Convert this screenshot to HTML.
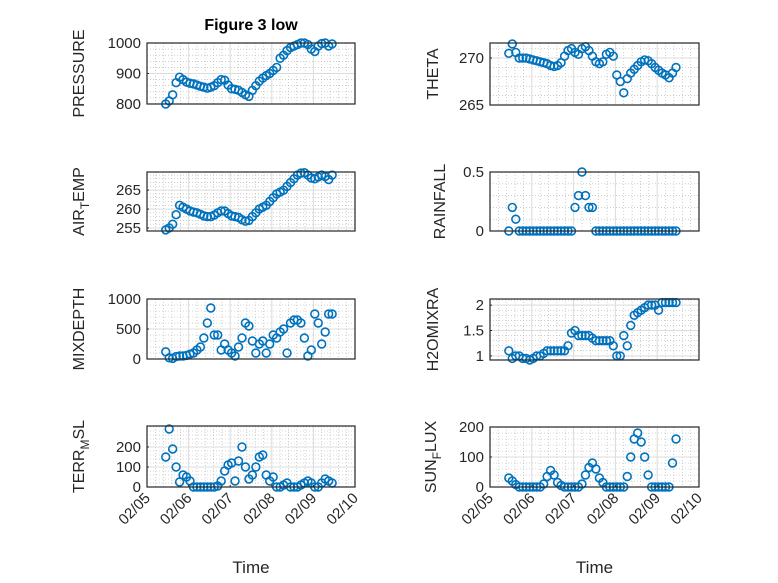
<!DOCTYPE html>
<html><head><meta charset="utf-8"><style>
body{margin:0;background:#fff}
svg{display:block;font-family:"Liberation Sans","DejaVu Sans",sans-serif}
</style></head><body>
<svg id="fig" width="778" height="583" viewBox="0 0 778 583">
<rect width="778" height="583" fill="#fff"/>
<text x="251" y="30" text-anchor="middle" font-size="16" font-weight="bold" fill="#000">Figure 3 low</text>
</svg>
<script>
const xTickLabels = ["02/05","02/06","02/07","02/08","02/09","02/10"];
const tStart = 5.45, tStep = 1/12;
const pressure = [800,810,830,870,888,880,872,868,866,862,858,855,852,855,860,870,880,878,862,850,848,845,838,830,825,845,860,875,885,893,900,910,920,950,960,975,985,990,995,1000,1000,995,980,972,990,998,1000,990,997];
const airTemp = [254.5,255,256,258.5,261,260.5,260,259.5,259.2,259,258.6,258.2,258,258,258.4,259,259.5,259.5,258.8,258.2,258,257.8,257.2,256.8,257,258,259,260,260.5,261,262,263,264,264.5,265,266,267,268,269,269.5,269.6,269,268.2,268,268.5,269,268.6,267.8,269];
const mixDepth = [120,20,10,40,50,50,60,80,100,150,200,350,600,850,400,400,150,250,150,100,50,200,350,600,550,300,100,250,300,100,250,400,350,450,500,100,600,650,650,600,350,50,150,750,600,250,450,750,750];
const terrMsl = [150,290,190,100,25,60,50,30,0,0,0,0,0,0,0,5,30,80,110,120,30,130,200,100,40,60,100,150,160,60,30,50,0,0,10,20,0,0,0,10,20,30,20,0,0,20,40,30,20];
const theta = [270.5,271.5,270.6,270,270,270,269.9,269.8,269.7,269.6,269.5,269.4,269.2,269.1,269.2,269.5,270.2,270.8,271,270.6,270.4,271,271.2,270.8,270.2,269.6,269.4,269.6,270.4,270.6,270.2,268.2,267.5,266.3,267.8,268.4,268.8,269.2,269.6,269.8,269.7,269.4,269,268.7,268.4,268.2,267.9,268.4,269];
const rainfall = [0,0.2,0.1,0,0,0,0,0,0,0,0,0,0,0,0,0,0,0,0,0.2,0.3,0.5,0.3,0.2,0.2,0,0,0,0,0,0,0,0,0,0,0,0,0,0,0,0,0,0,0,0,0,0,0,0];
const h2oMix = [1.1,0.95,1.0,1.0,0.95,0.95,0.92,0.95,1.0,1.0,1.05,1.1,1.1,1.1,1.1,1.1,1.1,1.2,1.45,1.5,1.4,1.4,1.4,1.4,1.35,1.3,1.3,1.3,1.3,1.3,1.2,1.0,1.0,1.4,1.2,1.6,1.8,1.85,1.9,1.95,2.0,2.0,2.0,1.9,2.05,2.05,2.05,2.05,2.05];
const sunFlux = [30,20,8,0,0,0,0,0,0,0,10,35,55,40,15,5,0,0,0,0,0,10,40,65,80,60,30,15,0,0,0,0,0,0,35,100,160,180,150,100,40,0,0,0,0,0,0,80,160];

const NS="http://www.w3.org/2000/svg";
const svg=document.getElementById('fig');
function mk(tag,attrs,parent){const e=document.createElementNS(NS,tag);for(const k in attrs)e.setAttribute(k,attrs[k]);(parent||svg).appendChild(e);return e;}

const panels=[
 {key:"pressure",data:pressure,x0:147,x1:355,y0:43,y1:104,ymin:800,ymax:1000,ticks:[800,900,1000],minor:20,label:["PRESSURE"],bottom:false,lx:84},
 {key:"air-temp",data:airTemp,x0:147,x1:355,y0:172,y1:231,ymin:254.2,ymax:269.8,ticks:[255,260,265],minor:1,label:["AIR","T","EMP"],bottom:false,lx:84},
 {key:"mixdepth",data:mixDepth,x0:147,x1:355,y0:299,y1:359,ymin:0,ymax:1000,ticks:[0,500,1000],minor:100,label:["MIXDEPTH"],bottom:false,lx:84},
 {key:"terr-msl",data:terrMsl,x0:147,x1:355,y0:426,y1:487,ymin:0,ymax:305,ticks:[0,100,200],minor:20,label:["TERR","M","SL"],bottom:true,lx:84},
 {key:"theta",data:theta,x0:490,x1:699,y0:43,y1:105,ymin:265,ymax:271.6,ticks:[265,270],minor:1,label:["THETA"],bottom:false,lx:438},
 {key:"rainfall",data:rainfall,x0:490,x1:699,y0:172,y1:231,ymin:0,ymax:0.5,ticks:[0,0.5],minor:0.1,label:["RAINFALL"],bottom:false,lx:445},
 {key:"h2omixra",data:h2oMix,x0:490,x1:699,y0:299,y1:360,ymin:0.92,ymax:2.12,ticks:[1,1.5,2],minor:0.1,label:["H2OMIXRA"],bottom:false,lx:438},
 {key:"sun-flux",data:sunFlux,x0:490,x1:699,y0:427,y1:487,ymin:0,ymax:200,ticks:[0,100,200],minor:20,label:["SUN","F","LUX"],bottom:true,lx:436}
];

panels.forEach(p=>{
 const g=mk('g',{});
 
 
 const xs=t=>p.x0+(t-5)/5*(p.x1-p.x0);
 const ys=v=>p.y1-(v-p.ymin)/(p.ymax-p.ymin)*(p.y1-p.y0);
 mk('rect',{x:p.x0,y:p.y0,width:p.x1-p.x0,height:p.y1-p.y0,fill:'#fff'},g);
 for(let d=5;d<10;d+=0.2){const x=xs(d);mk('line',{x1:x,x2:x,y1:p.y0,y2:p.y1,stroke:'#b0b0b0','stroke-width':0.6,'stroke-dasharray':'1,2'},g);}
 const start=Math.ceil(p.ymin/p.minor-1e-6)*p.minor;
 for(let v=start;v<=p.ymax+1e-9;v+=p.minor){const y=ys(v);mk('line',{x1:p.x0,x2:p.x1,y1:y,y2:y,stroke:'#b0b0b0','stroke-width':0.6,'stroke-dasharray':'1,2'},g);}
 for(let d=5;d<=10;d++){const x=xs(d);mk('line',{x1:x,x2:x,y1:p.y0,y2:p.y1,stroke:'#dcdcdc','stroke-width':1},g);}
 p.ticks.forEach(v=>{const y=ys(v);mk('line',{x1:p.x0,x2:p.x1,y1:y,y2:y,stroke:'#dcdcdc','stroke-width':1},g);
   const t=mk('text',{x:p.x0-6,y:y+5,'text-anchor':'end','font-size':15,fill:'#262626'},g);t.textContent=String(v);
   
   
   mk('line',{x1:p.x0,x2:p.x0+2,y1:y,y2:y,stroke:'#262626'},g);});
 p.data.forEach((v,i)=>{
   const c=mk('circle',{cx:xs(tStart+i*tStep),cy:ys(v),r:3.9,fill:'none',stroke:'#0072BD','stroke-width':1.6},g);
   
   
 });
 mk('rect',{x:p.x0,y:p.y0,width:p.x1-p.x0,height:p.y1-p.y0,fill:'none',stroke:'#262626','stroke-width':1.2},g);
 const cy=(p.y0+p.y1)/2;
 const lt=mk('text',{x:0,y:0,transform:`translate(${p.lx},${cy}) rotate(-90)`,'text-anchor':'middle','font-size':16,fill:'#262626'},g);
 
 
 if(p.label.length===1){lt.textContent=p.label[0];}
 else{
   const a=mk('tspan',{},lt);a.textContent=p.label[0];
   const b=mk('tspan',{dy:5,'font-size':12},lt);b.textContent=p.label[1];
   const c=mk('tspan',{dy:-5},lt);c.textContent=p.label[2];
 }
 if(p.bottom){
   xTickLabels.forEach((lab,i)=>{const x=xs(5+i);
     mk('line',{x1:x,x2:x,y1:p.y1,y2:p.y1-2,stroke:'#262626'},g);
     const t=mk('text',{x:0,y:0,transform:`translate(${x+4},${p.y1+12}) rotate(-45)`,'text-anchor':'end','font-size':15,fill:'#262626'},g);
     t.textContent=lab;
     
     
   });
   const tt=mk('text',{x:(p.x0+p.x1)/2,y:573,'text-anchor':'middle','font-size':17,fill:'#262626'},g);
   tt.textContent='Time';
   
   
 }
});
</script>
</body></html>
